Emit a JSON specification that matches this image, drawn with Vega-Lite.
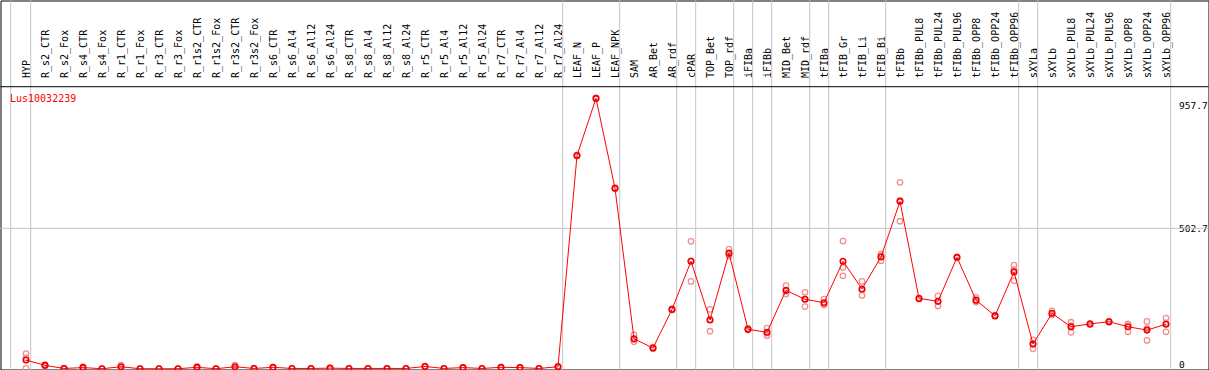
{
  "$schema": "https://vega.github.io/schema/vega-lite/v6.json",
  "width": 1208,
  "height": 369,
  "autosize": {"type": "none"},
  "padding": {"left": 0.5, "top": 0.5, "right": 0, "bottom": 0},
  "background": "white",
  "config": {"view": {"stroke": "black", "strokeWidth": 1}, "font": "DejaVu Sans Mono"},
  "title": {"text": "Lus10032239", "color": "#ff0000", "anchor": "start", "frame": "group", "orient": "top", "offset": -104, "baseline": "top", "dx": 9.5, "font": "DejaVu Sans Mono", "fontSize": 10, "fontWeight": "normal"},
  "datasets": {
    "groupStart": [{"sample": "HYP"}],
    "groupEnd": [
      {"sample": "HYP"}, {"sample": "R_r7_Al24"}, {"sample": "LEAF_NPK"}, {"sample": "AR_rdf"}, {"sample": "cPAR"},
      {"sample": "TOP_rdf"}, {"sample": "iFIBa"}, {"sample": "iFIBb"}, {"sample": "MID_rdf"}, {"sample": "tFIBa"},
      {"sample": "tFIB_Bi"}, {"sample": "tFIBb_OPP96"}, {"sample": "sXYLa"}, {"sample": "sXYLb_OPP96"}
    ],
    "means": [
      {"sample": "HYP", "value": 32}, {"sample": "R_s2_CTR", "value": 13}, {"sample": "R_s2_Fox", "value": 2},
      {"sample": "R_s4_CTR", "value": 5}, {"sample": "R_s4_Fox", "value": 1}, {"sample": "R_r1_CTR", "value": 8},
      {"sample": "R_r1_Fox", "value": 1}, {"sample": "R_r3_CTR", "value": 1}, {"sample": "R_r3_Fox", "value": 1},
      {"sample": "R_r1s2_CTR", "value": 6}, {"sample": "R_r1s2_Fox", "value": 1}, {"sample": "R_r3s2_CTR", "value": 8},
      {"sample": "R_r3s2_Fox", "value": 2}, {"sample": "R_s6_CTR", "value": 6}, {"sample": "R_s6_Al4", "value": 2},
      {"sample": "R_s6_Al12", "value": 2}, {"sample": "R_s6_Al24", "value": 3}, {"sample": "R_s8_CTR", "value": 2},
      {"sample": "R_s8_Al4", "value": 2}, {"sample": "R_s8_Al12", "value": 2}, {"sample": "R_s8_Al24", "value": 2},
      {"sample": "R_r5_CTR", "value": 9}, {"sample": "R_r5_Al4", "value": 2}, {"sample": "R_r5_Al12", "value": 5},
      {"sample": "R_r5_Al24", "value": 2}, {"sample": "R_r7_CTR", "value": 6}, {"sample": "R_r7_Al4", "value": 5},
      {"sample": "R_r7_Al12", "value": 2}, {"sample": "R_r7_Al24", "value": 8}, {"sample": "LEAF_N", "value": 763},
      {"sample": "LEAF_P", "value": 967}, {"sample": "LEAF_NPK", "value": 646}, {"sample": "SAM", "value": 108},
      {"sample": "AR_Bet", "value": 75}, {"sample": "AR_rdf", "value": 213}, {"sample": "cPAR", "value": 385},
      {"sample": "TOP_Bet", "value": 175}, {"sample": "TOP_rdf", "value": 414}, {"sample": "iFIBa", "value": 142},
      {"sample": "iFIBb", "value": 131}, {"sample": "MID_Bet", "value": 281}, {"sample": "MID_rdf", "value": 249},
      {"sample": "tFIBa", "value": 237}, {"sample": "tFIB_Gr", "value": 385}, {"sample": "tFIB_Li", "value": 286},
      {"sample": "tFIB_Bi", "value": 400}, {"sample": "tFIBb", "value": 599}, {"sample": "tFIBb_PUL8", "value": 252},
      {"sample": "tFIBb_PUL24", "value": 242}, {"sample": "tFIBb_PUL96", "value": 399}, {"sample": "tFIBb_OPP8", "value": 246},
      {"sample": "tFIBb_OPP24", "value": 190}, {"sample": "tFIBb_OPP96", "value": 347}, {"sample": "sXYLa", "value": 89},
      {"sample": "sXYLb", "value": 199}, {"sample": "sXYLb_PUL8", "value": 151}, {"sample": "sXYLb_PUL24", "value": 161},
      {"sample": "sXYLb_PUL96", "value": 169}, {"sample": "sXYLb_OPP8", "value": 151}, {"sample": "sXYLb_OPP24", "value": 139},
      {"sample": "sXYLb_OPP96", "value": 160}
    ],
    "reps": [
      {"sample": "HYP", "value": 55}, {"sample": "HYP", "value": 40}, {"sample": "HYP", "value": 2},
      {"sample": "R_s2_CTR", "value": 16}, {"sample": "R_s2_CTR", "value": 12}, {"sample": "R_s2_CTR", "value": 11},
      {"sample": "R_s2_Fox", "value": 3}, {"sample": "R_s2_Fox", "value": 2}, {"sample": "R_s2_Fox", "value": 1},
      {"sample": "R_s4_CTR", "value": 8}, {"sample": "R_s4_CTR", "value": 4}, {"sample": "R_s4_CTR", "value": 3},
      {"sample": "R_s4_Fox", "value": 1}, {"sample": "R_r1_CTR", "value": 14}, {"sample": "R_r1_CTR", "value": 6},
      {"sample": "R_r1_CTR", "value": 4}, {"sample": "R_r1_Fox", "value": 1}, {"sample": "R_r3_CTR", "value": 1},
      {"sample": "R_r3_Fox", "value": 1}, {"sample": "R_r1s2_CTR", "value": 9}, {"sample": "R_r1s2_CTR", "value": 5},
      {"sample": "R_r1s2_CTR", "value": 4}, {"sample": "R_r1s2_Fox", "value": 1}, {"sample": "R_r3s2_CTR", "value": 14},
      {"sample": "R_r3s2_CTR", "value": 6}, {"sample": "R_r3s2_CTR", "value": 4}, {"sample": "R_r3s2_Fox", "value": 3},
      {"sample": "R_r3s2_Fox", "value": 1}, {"sample": "R_s6_CTR", "value": 7}, {"sample": "R_s6_CTR", "value": 5},
      {"sample": "R_s6_Al4", "value": 2}, {"sample": "R_s6_Al12", "value": 2}, {"sample": "R_s6_Al24", "value": 4},
      {"sample": "R_s6_Al24", "value": 2}, {"sample": "R_s8_CTR", "value": 2}, {"sample": "R_s8_Al4", "value": 2},
      {"sample": "R_s8_Al12", "value": 2}, {"sample": "R_s8_Al24", "value": 2}, {"sample": "R_r5_CTR", "value": 11},
      {"sample": "R_r5_CTR", "value": 7}, {"sample": "R_r5_Al4", "value": 2}, {"sample": "R_r5_Al12", "value": 6},
      {"sample": "R_r5_Al12", "value": 4}, {"sample": "R_r5_Al24", "value": 2}, {"sample": "R_r7_CTR", "value": 7},
      {"sample": "R_r7_CTR", "value": 5}, {"sample": "R_r7_Al4", "value": 6}, {"sample": "R_r7_Al4", "value": 4},
      {"sample": "R_r7_Al12", "value": 2}, {"sample": "R_r7_Al24", "value": 10}, {"sample": "R_r7_Al24", "value": 6},
      {"sample": "LEAF_N", "value": 765}, {"sample": "LEAF_N", "value": 761}, {"sample": "LEAF_P", "value": 969},
      {"sample": "LEAF_P", "value": 965}, {"sample": "LEAF_NPK", "value": 648}, {"sample": "LEAF_NPK", "value": 644},
      {"sample": "SAM", "value": 122}, {"sample": "SAM", "value": 105}, {"sample": "SAM", "value": 97},
      {"sample": "AR_Bet", "value": 78}, {"sample": "AR_Bet", "value": 75}, {"sample": "AR_Bet", "value": 72},
      {"sample": "AR_rdf", "value": 215}, {"sample": "AR_rdf", "value": 211},
      {"sample": "cPAR", "value": 456}, {"sample": "cPAR", "value": 386}, {"sample": "cPAR", "value": 313},
      {"sample": "TOP_Bet", "value": 213}, {"sample": "TOP_Bet", "value": 177}, {"sample": "TOP_Bet", "value": 135},
      {"sample": "TOP_rdf", "value": 428}, {"sample": "TOP_rdf", "value": 410}, {"sample": "TOP_rdf", "value": 404},
      {"sample": "iFIBa", "value": 145}, {"sample": "iFIBa", "value": 142}, {"sample": "iFIBa", "value": 139},
      {"sample": "iFIBb", "value": 146}, {"sample": "iFIBb", "value": 128}, {"sample": "iFIBb", "value": 119},
      {"sample": "MID_Bet", "value": 298}, {"sample": "MID_Bet", "value": 278}, {"sample": "MID_Bet", "value": 268},
      {"sample": "MID_rdf", "value": 274}, {"sample": "MID_rdf", "value": 250}, {"sample": "MID_rdf", "value": 223},
      {"sample": "tFIBa", "value": 250}, {"sample": "tFIBa", "value": 232}, {"sample": "tFIBa", "value": 229},
      {"sample": "tFIB_Gr", "value": 457}, {"sample": "tFIB_Gr", "value": 363}, {"sample": "tFIB_Gr", "value": 333},
      {"sample": "tFIB_Li", "value": 313}, {"sample": "tFIB_Li", "value": 283}, {"sample": "tFIB_Li", "value": 263},
      {"sample": "tFIB_Bi", "value": 410}, {"sample": "tFIB_Bi", "value": 403}, {"sample": "tFIB_Bi", "value": 387},
      {"sample": "tFIBb", "value": 667}, {"sample": "tFIBb", "value": 602}, {"sample": "tFIBb", "value": 528},
      {"sample": "tFIBb_PUL8", "value": 254}, {"sample": "tFIBb_PUL8", "value": 250},
      {"sample": "tFIBb_PUL24", "value": 261}, {"sample": "tFIBb_PUL24", "value": 240}, {"sample": "tFIBb_PUL24", "value": 225},
      {"sample": "tFIBb_PUL96", "value": 401}, {"sample": "tFIBb_PUL96", "value": 397},
      {"sample": "tFIBb_OPP8", "value": 256}, {"sample": "tFIBb_OPP8", "value": 244}, {"sample": "tFIBb_OPP8", "value": 239},
      {"sample": "tFIBb_OPP24", "value": 192}, {"sample": "tFIBb_OPP24", "value": 188},
      {"sample": "tFIBb_OPP96", "value": 371}, {"sample": "tFIBb_OPP96", "value": 355}, {"sample": "tFIBb_OPP96", "value": 315},
      {"sample": "sXYLa", "value": 104}, {"sample": "sXYLa", "value": 91}, {"sample": "sXYLa", "value": 72},
      {"sample": "sXYLb", "value": 208}, {"sample": "sXYLb", "value": 195}, {"sample": "sXYLb", "value": 194},
      {"sample": "sXYLb_PUL8", "value": 167}, {"sample": "sXYLb_PUL8", "value": 155}, {"sample": "sXYLb_PUL8", "value": 131},
      {"sample": "sXYLb_PUL24", "value": 163}, {"sample": "sXYLb_PUL24", "value": 159},
      {"sample": "sXYLb_PUL96", "value": 171}, {"sample": "sXYLb_PUL96", "value": 167},
      {"sample": "sXYLb_OPP8", "value": 161}, {"sample": "sXYLb_OPP8", "value": 159}, {"sample": "sXYLb_OPP8", "value": 133},
      {"sample": "sXYLb_OPP24", "value": 170}, {"sample": "sXYLb_OPP24", "value": 145}, {"sample": "sXYLb_OPP24", "value": 102},
      {"sample": "sXYLb_OPP96", "value": 182}, {"sample": "sXYLb_OPP96", "value": 165}, {"sample": "sXYLb_OPP96", "value": 133}
    ]
  },
  "layer": [
    {
      "data": {"name": "groupStart"},
      "mark": {"type": "rule", "color": "#c4c4c4", "strokeWidth": 1, "xOffset": -15.3},
      "encoding": {
        "x": {
          "field": "sample", "type": "nominal",
          "scale": {
            "type": "point", "range": [25.5, 1165.5], "padding": 0,
            "domain": ["HYP", "R_s2_CTR", "R_s2_Fox", "R_s4_CTR", "R_s4_Fox", "R_r1_CTR", "R_r1_Fox", "R_r3_CTR", "R_r3_Fox", "R_r1s2_CTR", "R_r1s2_Fox", "R_r3s2_CTR", "R_r3s2_Fox", "R_s6_CTR", "R_s6_Al4", "R_s6_Al12", "R_s6_Al24", "R_s8_CTR", "R_s8_Al4", "R_s8_Al12", "R_s8_Al24", "R_r5_CTR", "R_r5_Al4", "R_r5_Al12", "R_r5_Al24", "R_r7_CTR", "R_r7_Al4", "R_r7_Al12", "R_r7_Al24", "LEAF_N", "LEAF_P", "LEAF_NPK", "SAM", "AR_Bet", "AR_rdf", "cPAR", "TOP_Bet", "TOP_rdf", "iFIBa", "iFIBb", "MID_Bet", "MID_rdf", "tFIBa", "tFIB_Gr", "tFIB_Li", "tFIB_Bi", "tFIBb", "tFIBb_PUL8", "tFIBb_PUL24", "tFIBb_PUL96", "tFIBb_OPP8", "tFIBb_OPP24", "tFIBb_OPP96", "sXYLa", "sXYLb", "sXYLb_PUL8", "sXYLb_PUL24", "sXYLb_PUL96", "sXYLb_OPP8", "sXYLb_OPP24", "sXYLb_OPP96"]
          },
          "axis": {
            "orient": "top", "title": null, "labelAngle": -90, "labelAlign": "left", "labelBaseline": "middle",
            "labelPadding": -77, "ticks": false, "tickSize": 0, "domain": false, "grid": false,
            "labelFont": "DejaVu Sans Mono", "labelFontSize": 10, "labelColor": "#000000", "labelOverlap": false, "labelLimit": 0
          }
        }
      }
    },
    {
      "data": {"name": "groupEnd"},
      "mark": {"type": "rule", "color": "#c4c4c4", "strokeWidth": 1, "xOffset": 4.7},
      "encoding": {"x": {"field": "sample", "type": "nominal"}}
    },
    {
      "data": {"name": "groupStart"},
      "mark": {"type": "rule", "color": "#c4c4c4", "strokeWidth": 1},
      "encoding": {
        "y": {
          "datum": 502.7, "type": "quantitative",
          "scale": {"domain": [0, 1316.6], "range": [368.5, 0], "nice": false, "zero": true},
          "axis": {
            "orient": "right", "title": null, "values": [0, 502.7, 957.7], "labelExpr": "'' + datum.value",
            "labelAlign": "left", "labelPadding": -30, "ticks": false, "tickSize": 0, "domain": false, "grid": false,
            "labelFont": "DejaVu Sans Mono", "labelFontSize": 9.5, "labelColor": "#000000",
            "labelBaseline": {"condition": [{"test": "datum.value == 0", "value": "bottom"}, {"test": "datum.value > 900", "value": "top"}], "value": "middle"}
          }
        }
      }
    },
    {
      "data": {"name": "groupStart"},
      "mark": {"type": "rule", "color": "#000000", "strokeWidth": 1},
      "encoding": {"y": {"datum": 1008.6, "type": "quantitative"}}
    },
    {
      "data": {"name": "reps"},
      "mark": {"type": "point", "shape": "circle", "filled": false, "size": 30, "stroke": "#f09090", "strokeWidth": 1.3, "opacity": 1},
      "encoding": {
        "x": {"field": "sample", "type": "nominal"},
        "y": {"field": "value", "type": "quantitative"}
      }
    },
    {
      "data": {"name": "means"},
      "mark": {"type": "line", "color": "#ff0000", "strokeWidth": 1},
      "encoding": {
        "x": {"field": "sample", "type": "nominal"},
        "y": {"field": "value", "type": "quantitative"},
        "order": {"value": null}
      }
    },
    {
      "data": {"name": "means"},
      "mark": {"type": "point", "shape": "circle", "filled": false, "size": 30, "stroke": "#ee0000", "strokeWidth": 1.6, "opacity": 1},
      "encoding": {
        "x": {"field": "sample", "type": "nominal"},
        "y": {"field": "value", "type": "quantitative"}
      }
    }
  ]
}
